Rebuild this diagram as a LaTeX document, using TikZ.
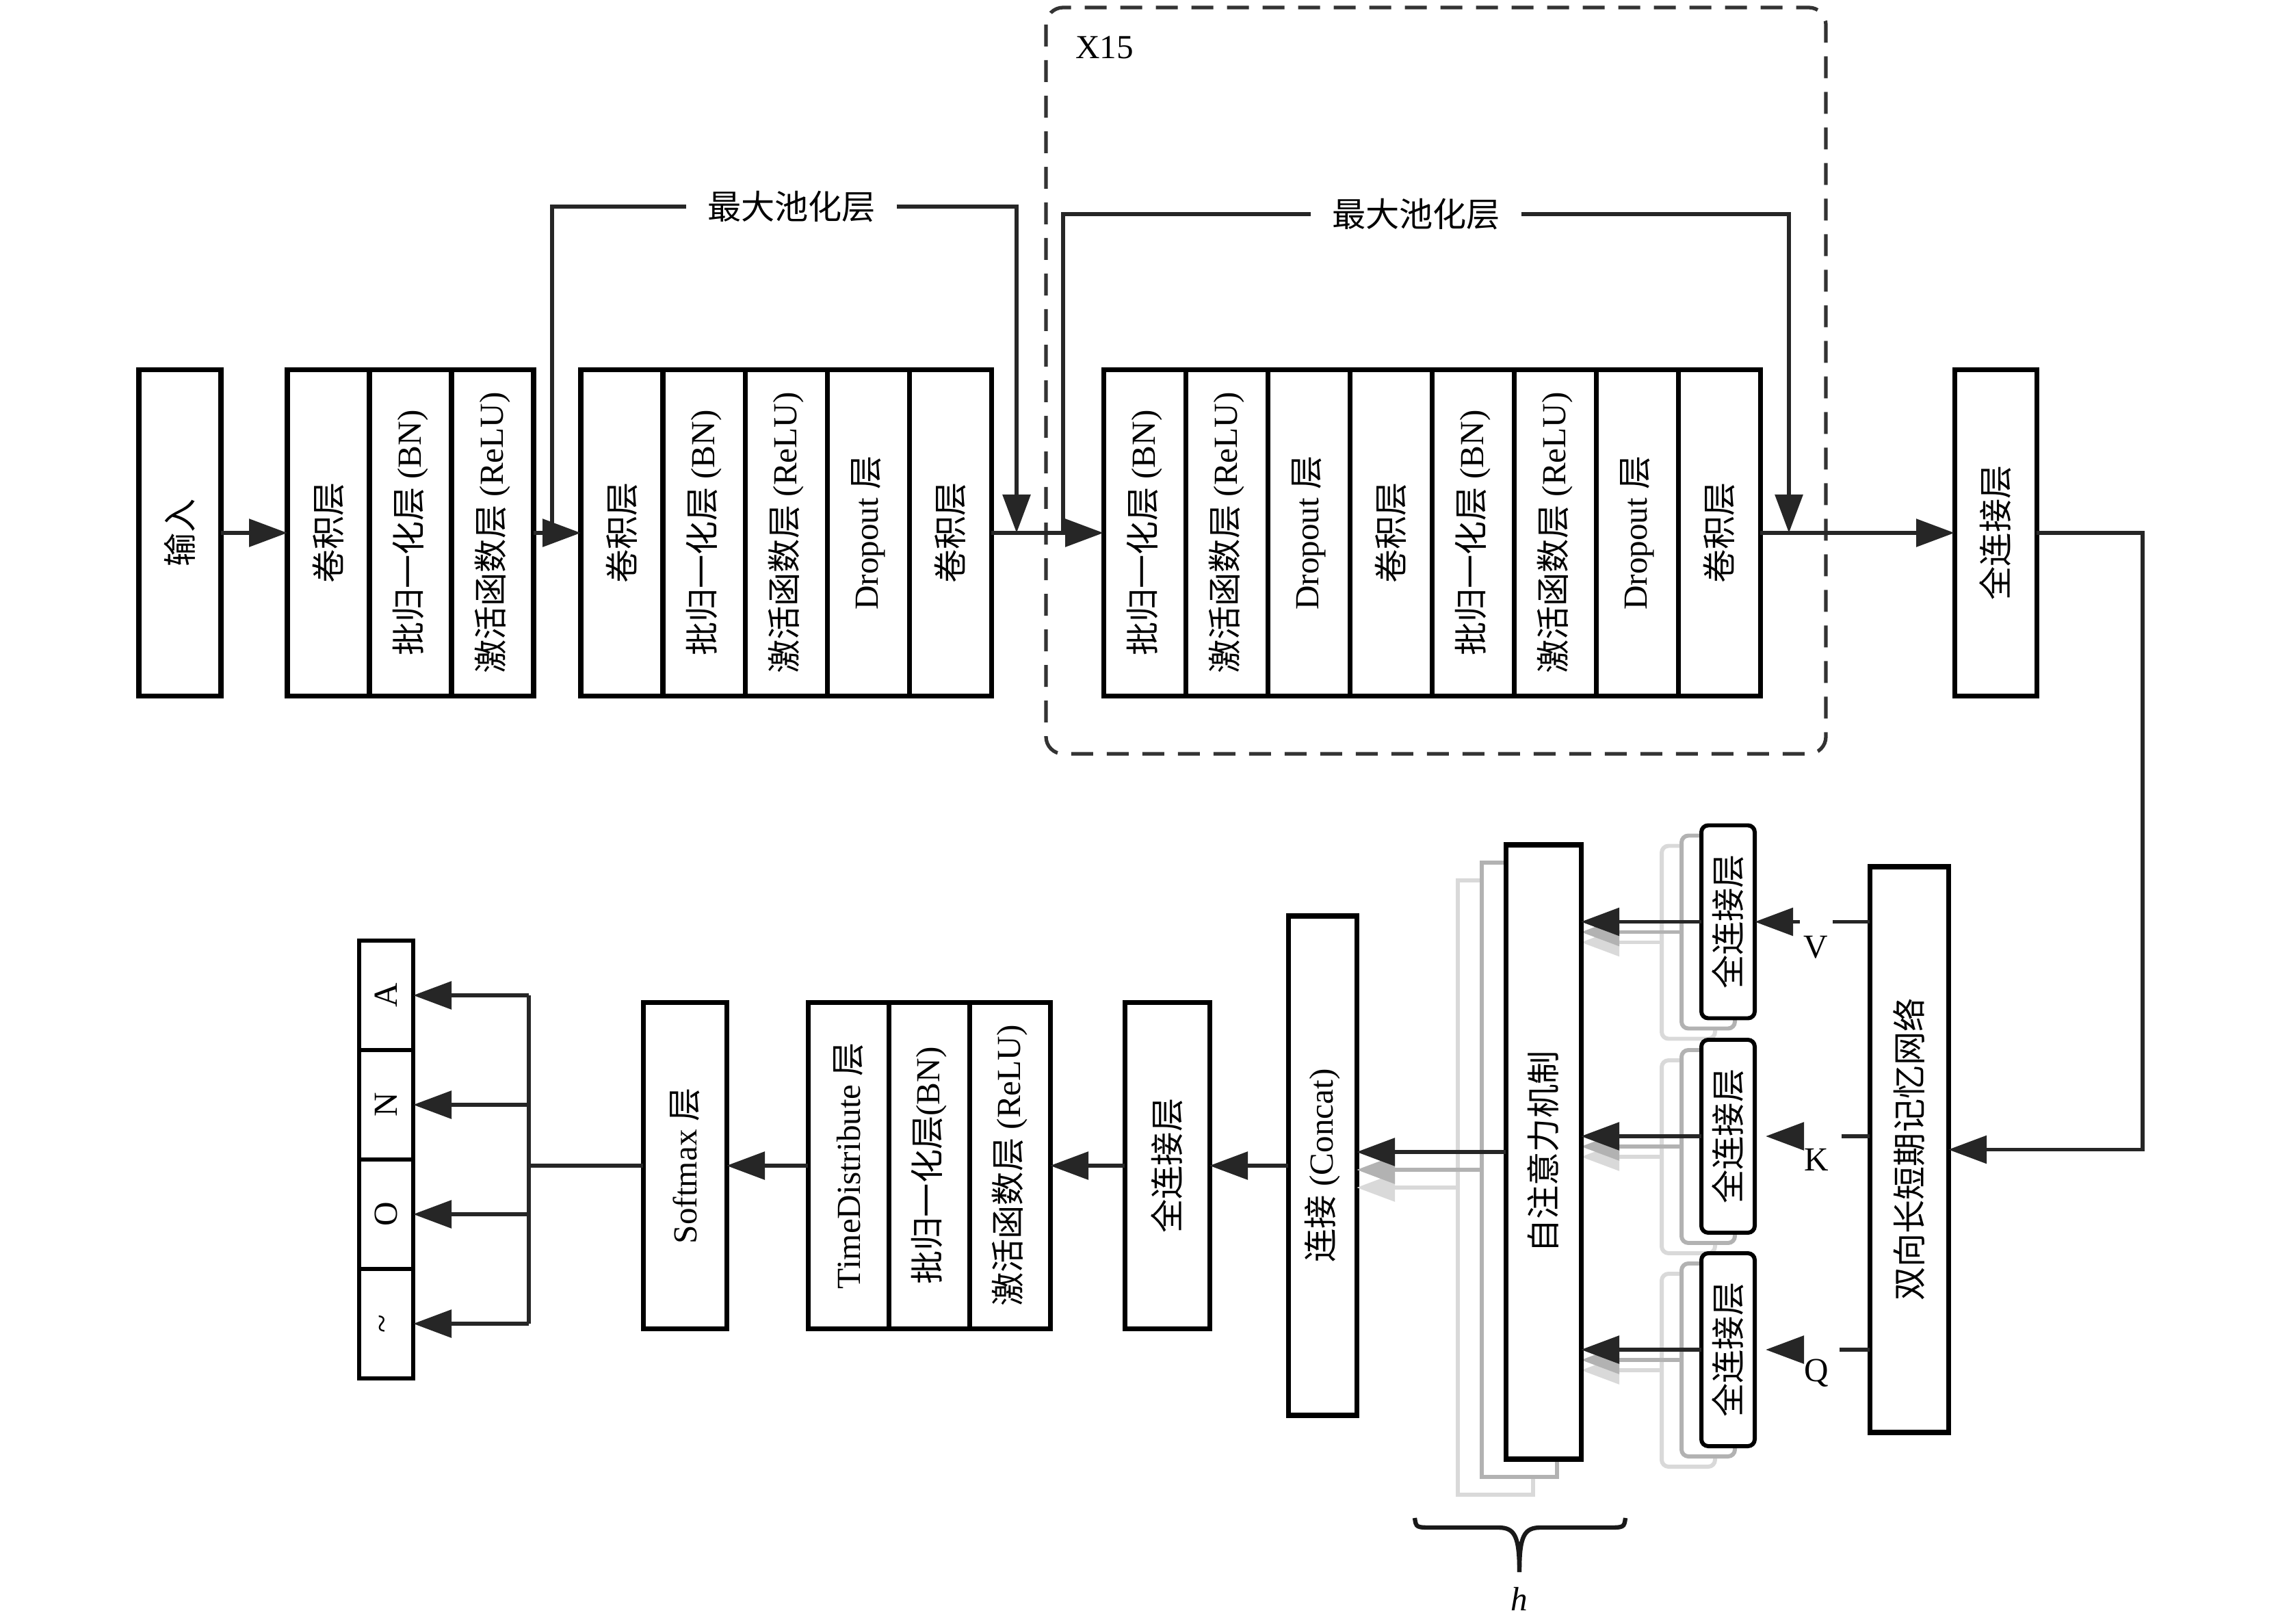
\documentclass[tikz,border=0pt]{standalone}
\usepackage{fontspec}
\setmainfont{Liberation Serif}
\newfontfamily\cjk{Noto Sans CJK SC}
\usetikzlibrary{arrows.meta, positioning}

\newcommand{\vtext}[1]{\rotatebox{90}{#1}}

\begin{document}
\begin{tikzpicture}[
		node distance=0pt,
		every node/.style={font=\fontsize{14}{16}\selectfont},
		cell/.style={rectangle, draw, line width=2pt, fill=white, inner sep=0pt, outer sep=0pt, minimum width=1.2cm, minimum height=4.77cm},
		tall/.style={cell, minimum height=#1},
		fcbox/.style={rectangle, draw, line width=1.7pt, fill=white, rounded corners=0.1cm, inner sep=0pt, outer sep=0pt, minimum width=0.78cm, minimum height=2.82cm},
		outcell/.style={cell, line width=1.6pt, minimum width=0.79cm, minimum height=1.6cm},
		line/.style={draw, black!85, line width=1.7pt, -{Triangle[length=0.56cm, width=0.40cm]}},
		plain/.style={draw, black!85, line width=1.7pt}
	]

	% Page frame
	\useasboundingbox (0,0) rectangle (33.46,-23.74);

	% Repeat frame
	\draw [gray!40!black, line width=1.5pt, dash pattern=on 0.32cm off 0.2cm, rounded corners=0.25cm] (15.29,-0.11) rectangle (26.69,-11.02);
	\node [anchor=west] (rep) at (15.60,-0.70) {X15};

	% Input
	\node [cell] (in) at (2.63,-7.79) {\vtext{\cjk 输入}};

	% First conv block
	\node [cell, right=0.97cm of in] (conv1) {\vtext{\cjk 卷积层}};
	\node [cell, right=of conv1] (bn1) {\vtext{{\cjk 批归一化层} (BN)}};
	\node [cell, right=of bn1] (relu1) {\vtext{{\cjk 激活函数层} (ReLU)}};

	% Second conv block
	\node [cell, right=0.69cm of relu1] (conv2) {\vtext{\cjk 卷积层}};
	\node [cell, right=of conv2] (bn2) {\vtext{{\cjk 批归一化层} (BN)}};
	\node [cell, right=of bn2] (relu2) {\vtext{{\cjk 激活函数层} (ReLU)}};
	\node [cell, right=of relu2] (drop2) {\vtext{Dropout {\cjk 层}}};
	\node [cell, right=of drop2] (conv3) {\vtext{\cjk 卷积层}};

	% Repeated block
	\node [cell, right=1.64cm of conv3] (bn3) {\vtext{{\cjk 批归一化层} (BN)}};
	\node [cell, right=of bn3] (relu3) {\vtext{{\cjk 激活函数层} (ReLU)}};
	\node [cell, right=of relu3] (drop3) {\vtext{Dropout {\cjk 层}}};
	\node [cell, right=of drop3] (conv4) {\vtext{\cjk 卷积层}};
	\node [cell, right=of conv4] (bn4) {\vtext{{\cjk 批归一化层} (BN)}};
	\node [cell, right=of bn4] (relu4) {\vtext{{\cjk 激活函数层} (ReLU)}};
	\node [cell, right=of relu4] (drop4) {\vtext{Dropout {\cjk 层}}};
	\node [cell, right=of drop4] (conv5) {\vtext{\cjk 卷积层}};

	% Dense layer
	\node [cell, right=2.84cm of conv5] (fc1) {\vtext{\cjk 全连接层}};

	% Main line
	\path [line] (in) -- (conv1);
	\path [line] (relu1) -- (conv2);
	\path [line] (conv3) -- (bn3);
	\path [line] (conv5) -- (fc1);

	% Pooling shortcuts
	\coordinate (s1a) at (8.07,-7.79);
	\coordinate (s1b) at (14.86,-7.79);
	\coordinate (s2a) at (15.54,-7.79);
	\coordinate (s2b) at (26.15,-7.79);
	\node [inner xsep=0.3cm] (pool1) at (11.57,-3.02) {\cjk 最大池化层};
	\node [inner xsep=0.3cm] (pool2) at (20.70,-3.13) {\cjk 最大池化层};
	\path [line] (s1a) |- (pool1) -| (s1b);
	\path [line] (s2a) |- (pool2) -| (s2b);

	% BiLSTM
	\node [tall=8.27cm, minimum width=1.15cm] (lstm) at (27.905,-16.805) {\vtext{\cjk 双向长短期记忆网络}};
	\path [line] (fc1.east) -- ++(1.55,0) |- (lstm.east);

	% Stacked heads: faint layer
	\node [fcbox, draw=gray!30] (fcv3) at (24.68,-13.775) {};
	\node [fcbox, draw=gray!30] (fck3) at (24.68,-16.91) {};
	\node [fcbox, draw=gray!30] (fcq3) at (24.68,-20.03) {};
	\node [tall=8.98cm, minimum width=1.10cm, line width=1.5pt, draw=gray!30] (att3) at (21.86,-17.36) {};
	\path [line, gray!30] (fcv3.west) -- (fcv3.west -| 23.11,0);
	\path [line, gray!30] (fck3.west) -- (fck3.west -| 23.11,0);
	\path [line, gray!30] (fcq3.west) -- (fcq3.west -| 23.11,0);

	% Stacked heads: middle layer
	\node [fcbox, draw=gray!60] (fcv2) at (24.97,-13.625) {};
	\node [fcbox, draw=gray!60] (fck2) at (24.97,-16.76) {};
	\node [fcbox, draw=gray!60] (fcq2) at (24.97,-19.88) {};
	\node [tall=8.98cm, minimum width=1.10cm, line width=1.5pt, draw=gray!60] (att2) at (22.21,-17.10) {};
	\path [line, gray!60] (fcv2.west) -- (fcv2.west -| 23.11,0);
	\path [line, gray!60] (fck2.west) -- (fck2.west -| 23.11,0);
	\path [line, gray!60] (fcq2.west) -- (fcq2.west -| 23.11,0);

	% Front layer
	\node [fcbox] (fcv) at (25.26,-13.475) {\vtext{\cjk 全连接层}};
	\node [fcbox] (fck) at (25.26,-16.61) {\vtext{\cjk 全连接层}};
	\node [fcbox] (fcq) at (25.26,-19.73) {\vtext{\cjk 全连接层}};
	\node [tall=8.98cm, minimum width=1.10cm] (att) at (22.56,-16.84) {\vtext{\cjk 自注意力机制}};
	\path [line] (fcv) -- (fcv -| att.east);
	\path [line] (fck) -- (fck -| att.east);
	\path [line] (fcq) -- (fcq -| att.east);

	% V, K, Q from the BiLSTM
	\coordinate (vgap) at (26.79,-13.475);
	\coordinate (vhead) at (26.31,-13.475);
	\coordinate (kgap) at (26.92,-16.61);
	\coordinate (khead) at (26.36,-16.61);
	\coordinate (qgap) at (26.89,-19.73);
	\coordinate (qhead) at (26.36,-19.73);
	\path [plain] (lstm.west |- vgap) -- (vgap);
	\path [plain] (lstm.west |- kgap) -- (kgap);
	\path [plain] (lstm.west |- qgap) -- (qgap);
	\path [line] (vhead) -- (fcv.east);
	\path [line, shorten >=0.16cm] (khead) -- (fck.east);
	\path [line, shorten >=0.16cm] (qhead) -- (fcq.east);
	\node (vlab) at (26.54,-13.85) {V};
	\node (klab) at (26.55,-16.95) {K};
	\node (qlab) at (26.55,-20.07) {Q};

	% Heads bracket
	\draw [gray!20!black, line width=1.8pt] (20.68,-22.19) .. controls (20.70,-22.33) .. (20.95,-22.33) -- (21.90,-22.33) .. controls (22.14,-22.33) and (22.21,-22.45) .. (22.21,-22.98);
	\draw [gray!20!black, line width=1.8pt] (23.76,-22.19) .. controls (23.74,-22.33) .. (23.49,-22.33) -- (22.52,-22.33) .. controls (22.28,-22.33) and (22.21,-22.45) .. (22.21,-22.98);
	\node (hlab) at (22.21,-23.37) {\textit{h}};

	% Concat and classifier
	\node [tall=7.30cm, minimum width=1.0cm] (concat) at (19.33,-17.04) {\vtext{{\cjk 连接} (Concat)}};
	\path [line, gray!30] (att3.west) -- (att3.west -| concat.east);
	\path [line, gray!60] (att2.west) -- (att2.west -| concat.east);
	\path [line] (att.west) -- (att.west -| concat.east);

	\node [cell, minimum width=1.24cm] (fc2) at (17.06,-17.04) {\vtext{\cjk 全连接层}};
	\node [cell, minimum width=1.18cm, left=1.09cm of fc2] (trelu) {\vtext{{\cjk 激活函数层} (ReLU)}};
	\node [cell, minimum width=1.18cm, left=of trelu] (tbn) {\vtext{{\cjk 批归一化层}(BN)}};
	\node [cell, minimum width=1.18cm, left=of tbn] (td) {\vtext{TimeDistribute {\cjk 层}}};
	\node [cell, minimum width=1.22cm, left=1.19cm of td] (soft) {\vtext{Softmax {\cjk 层}}};

	\path [line] (concat) -- (fc2);
	\path [line] (fc2) -- (trelu);
	\path [line] (td) -- (soft);

	% Output classes
	\node [outcell] (oa) at (5.645,-14.55) {\vtext{A}};
	\node [outcell, below=of oa] (on) {\vtext{N}};
	\node [outcell, below=of on] (oo) {\vtext{O}};
	\node [outcell, below=of oo] (ot) {\vtext{\textasciitilde}};

	\coordinate (bus) at (7.73,-17.04);
	\path [plain] (soft) -- (bus);
	\path [plain] (bus |- oa.east) -- (bus |- ot.east);
	\path [line] (bus |- oa.east) -- (oa.east);
	\path [line] (bus |- on.east) -- (on.east);
	\path [line] (bus |- oo.east) -- (oo.east);
	\path [line] (bus |- ot.east) -- (ot.east);

\end{tikzpicture}
\end{document}
